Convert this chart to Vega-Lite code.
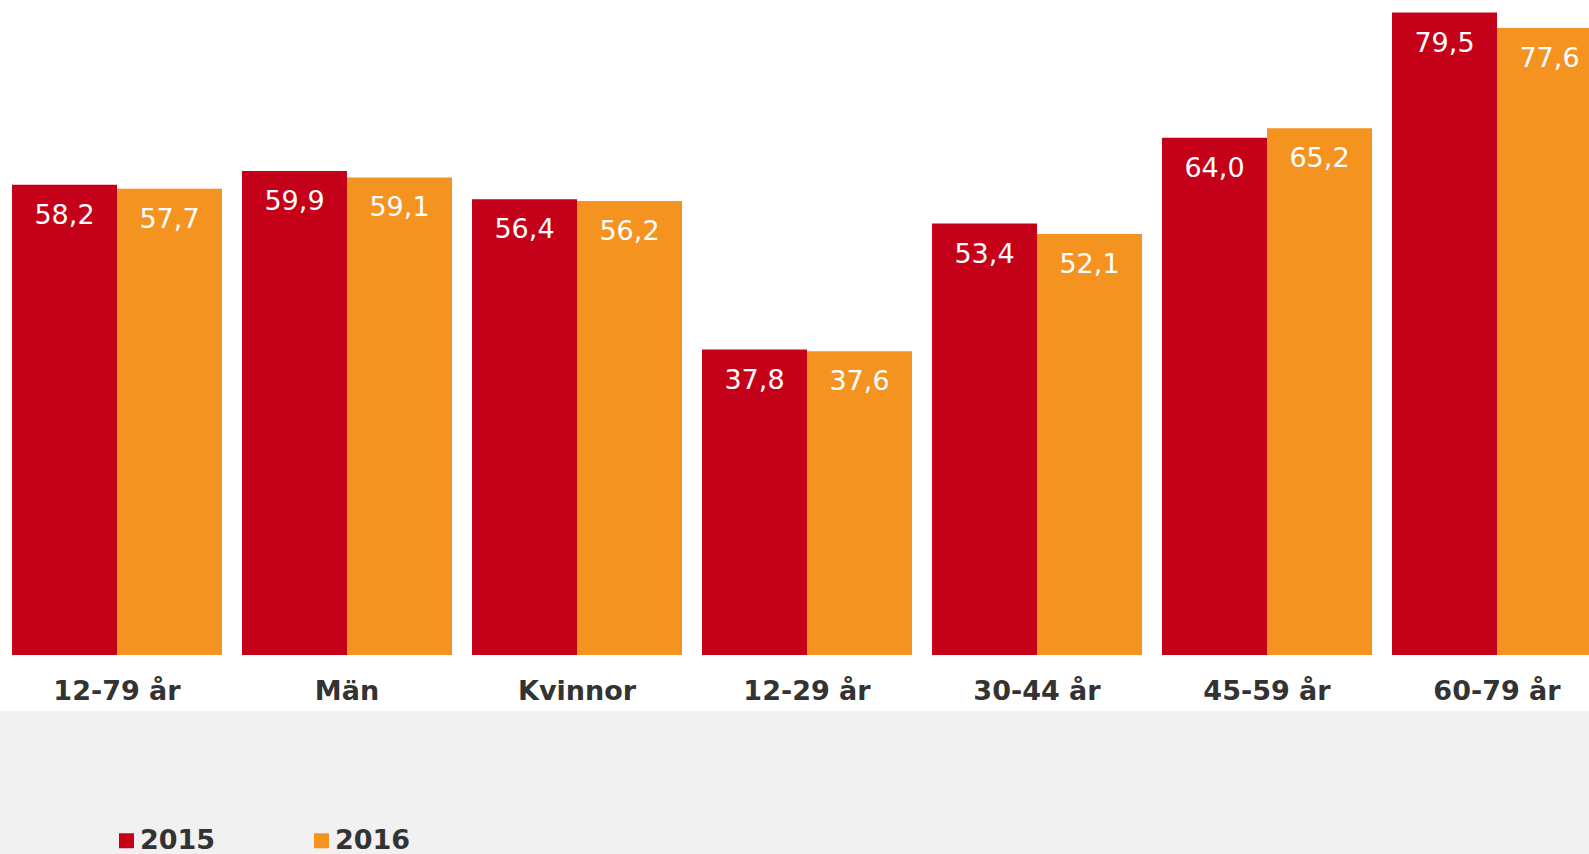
{
  "$schema": "https://vega.github.io/schema/vega-lite/v6.json",
  "autosize": "none",
  "width": 1589,
  "height": 711,
  "padding": {"left": 0, "top": 0, "right": 0, "bottom": 143},
  "background": "#f1f1f1",
  "config": {
    "view": {"stroke": null, "fill": "#ffffff"},
    "locale": {"number": {"decimal": ",", "thousands": " ", "grouping": [3], "currency": ["", " kr"]}},
    "font": "DejaVu Sans"
  },
  "data": {
    "values": [
      {"group": "12-79 år", "year": "2015", "value": 58.2},
      {"group": "12-79 år", "year": "2016", "value": 57.7},
      {"group": "Män", "year": "2015", "value": 59.9},
      {"group": "Män", "year": "2016", "value": 59.1},
      {"group": "Kvinnor", "year": "2015", "value": 56.4},
      {"group": "Kvinnor", "year": "2016", "value": 56.2},
      {"group": "12-29 år", "year": "2015", "value": 37.8},
      {"group": "12-29 år", "year": "2016", "value": 37.6},
      {"group": "30-44 år", "year": "2015", "value": 53.4},
      {"group": "30-44 år", "year": "2016", "value": 52.1},
      {"group": "45-59 år", "year": "2015", "value": 64.0},
      {"group": "45-59 år", "year": "2016", "value": 65.2},
      {"group": "60-79 år", "year": "2015", "value": 79.5},
      {"group": "60-79 år", "year": "2016", "value": 77.6}
    ]
  },
  "encoding": {
    "x": {
      "field": "group",
      "type": "nominal",
      "sort": null,
      "scale": {"range": [2, 1612], "paddingInner": 0.08696, "paddingOuter": 0.04348},
      "axis": {
        "title": null,
        "orient": "bottom",
        "labelAngle": 0,
        "domain": false,
        "ticks": false,
        "tickSize": 0,
        "offset": -12,
        "labelPadding": 0,
        "labelBaseline": "alphabetic",
        "labelFont": "DejaVu Sans",
        "labelFontWeight": "bold",
        "labelFontSize": 27,
        "labelColor": "#333333"
      }
    },
    "xOffset": {
      "field": "year",
      "type": "nominal",
      "scale": {"paddingInner": 0, "paddingOuter": 0}
    },
    "y": {
      "field": "value",
      "type": "quantitative",
      "scale": {"domain": [-6.93, 81.06], "nice": false, "zero": false},
      "axis": null
    }
  },
  "layer": [
    {
      "mark": {"type": "bar", "clip": true},
      "encoding": {
        "color": {
          "field": "year",
          "type": "nominal",
          "scale": {"domain": ["2015", "2016"], "range": ["#c50019", "#f59320"]},
          "legend": {
            "title": null,
            "orient": "none",
            "direction": "horizontal",
            "legendX": 113,
            "legendY": 827,
            "symbolType": "square",
            "symbolSize": 225,
            "symbolStrokeWidth": 0,
            "symbolOpacity": 1,
            "labelFont": "DejaVu Sans",
            "labelFontSize": 27,
            "labelFontWeight": "bold",
            "labelColor": "#333333",
            "labelOffset": 0,
            "columnPadding": 92,
            "padding": 0
          }
        }
      }
    },
    {
      "mark": {
        "type": "text",
        "baseline": "alphabetic",
        "align": "center",
        "dy": 39,
        "fontSize": 27,
        "font": "DejaVu Sans",
        "color": "#ffffff"
      },
      "encoding": {
        "text": {"field": "value", "type": "quantitative", "format": ".1f"}
      }
    }
  ]
}
